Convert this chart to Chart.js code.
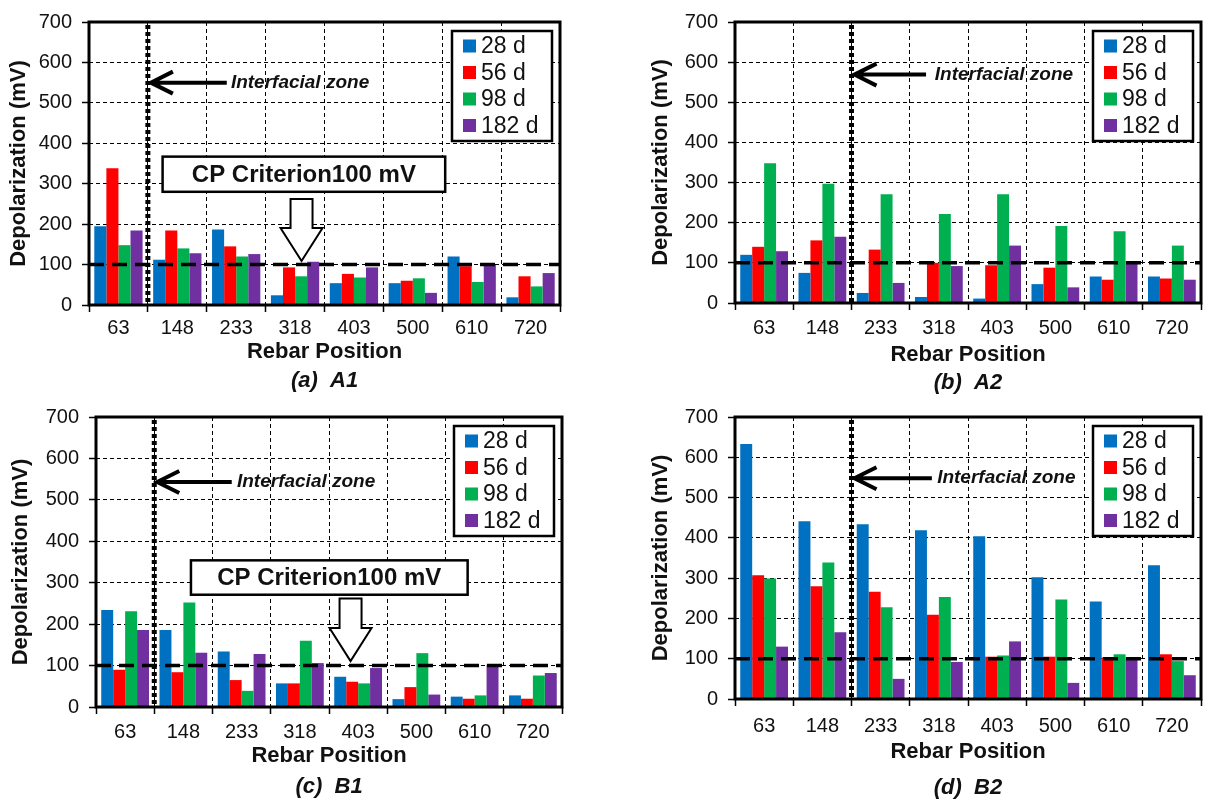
<!DOCTYPE html>
<html lang="en">
<head>
  <meta charset="UTF-8" />
  <title>Depolarization vs Rebar Position</title>
  <style>
    * { box-sizing: border-box; }
    body {
      margin: 0;
      width: 1208px;
      height: 803px;
      background: #fff;
      position: relative;
      overflow: hidden;
    }
    .panel { position: absolute; }
  </style>
</head>
<body>
  <div class="panel" style="left:0;top:0"><canvas id="chartA1" width="580" height="395"></canvas></div>
  <div class="panel" style="left:640px;top:0"><canvas id="chartA2" width="568" height="395"></canvas></div>
  <div class="panel" style="left:0;top:395px"><canvas id="chartB1" width="580" height="408"></canvas></div>
  <div class="panel" style="left:640px;top:395px"><canvas id="chartB2" width="568" height="408"></canvas></div>

  <script src="https://cdn.jsdelivr.net/npm/chart.js"></script>
  <script>
    const positions = ['63', '148', '233', '318', '403', '500', '610', '720'];
    const ageLabels = ['28 d', '56 d', '98 d', '182 d'];
    const ageColors = ['#0070C0', '#FF0000', '#00B050', '#7030A0'];
    const criterion = 100;

    // (a) A1
    const a1Day28 = [195, 112, 187, 24, 54, 54, 120, 19];
    const a1Day56 = [338, 184, 145, 93, 77, 60, 96, 71];
    const a1Day98 = [148, 140, 120, 71, 68, 66, 57, 46];
    const a1Day182 = [184, 128, 126, 107, 93, 30, 99, 79];
    // (b) A2
    const a2Day28 = [120, 75, 25, 15, 11, 47, 66, 66];
    const a2Day56 = [140, 156, 133, 100, 94, 88, 58, 61];
    const a2Day98 = [348, 297, 271, 222, 271, 192, 179, 143];
    const a2Day182 = [129, 165, 50, 92, 143, 39, 104, 58];
    // (c) B1
    const b1Day28 = [234, 186, 134, 57, 73, 19, 25, 28];
    const b1Day56 = [90, 84, 65, 57, 61, 48, 20, 20];
    const b1Day98 = [231, 252, 39, 160, 57, 130, 28, 76];
    const b1Day182 = [186, 131, 128, 106, 94, 30, 102, 82];
    // (d) B2
    const b2Day28 = [633, 441, 434, 419, 404, 302, 242, 332];
    const b2Day56 = [307, 280, 266, 209, 105, 105, 103, 111];
    const b2Day98 = [299, 339, 228, 253, 108, 247, 111, 94];
    const b2Day182 = [130, 166, 50, 92, 143, 40, 103, 59];

    const FONT = "'Liberation Sans', Arial, sans-serif";
    Chart.defaults.font.family = FONT;
    Chart.defaults.color = '#111';

    // draws the criterion line, interfacial zone marker, CP box, legend and frame
    function decorPlugin(note) {
      return {
        id: 'decor',
        afterDraw(chart) {
          const { ctx, chartArea: a, scales: { x, y } } = chart;
          ctx.save();

          // 100 mV criterion line
          const yc = y.getPixelForValue(criterion);
          ctx.strokeStyle = '#000';
          ctx.lineWidth = 3.5;
          ctx.setLineDash([15, 8]);
          ctx.beginPath();
          ctx.moveTo(a.left, yc);
          ctx.lineTo(a.right, yc);
          ctx.stroke();

          // interfacial zone boundary
          const xb = x.getPixelForValue(note.zone);
          ctx.lineWidth = 5;
          ctx.setLineDash([4, 3]);
          ctx.beginPath();
          ctx.moveTo(xb, a.top + 3);
          ctx.lineTo(xb, a.bottom);
          ctx.stroke();

          // arrow + label
          ctx.setLineDash([]);
          ctx.lineWidth = 4;
          const ya = y.getPixelForValue(note.arrowY);
          const tip = xb + 3;
          ctx.beginPath();
          ctx.moveTo(x.getPixelForValue(note.arrowTail), ya);
          ctx.lineTo(tip + 2, ya);
          ctx.moveTo(tip + 22, ya - 11);
          ctx.lineTo(tip, ya);
          ctx.lineTo(tip + 22, ya + 11);
          ctx.stroke();
          ctx.fillStyle = '#111';
          ctx.font = 'italic bold 19px ' + FONT;
          ctx.textBaseline = 'middle';
          ctx.textAlign = 'left';
          ctx.fillText('Interfacial zone', x.getPixelForValue(note.textStart), ya);

          // CP criterion callout
          if (note.cp) {
            const c = note.cp;
            const bx0 = x.getPixelForValue(c.x0), bx1 = x.getPixelForValue(c.x1);
            const by0 = y.getPixelForValue(c.yTop), by1 = y.getPixelForValue(c.yBottom);
            ctx.fillStyle = '#fff';
            ctx.fillRect(bx0, by0, bx1 - bx0, by1 - by0);
            ctx.lineWidth = 2.5;
            ctx.strokeRect(bx0, by0, bx1 - bx0, by1 - by0);
            ctx.fillStyle = '#111';
            ctx.font = 'bold 24px ' + FONT;
            ctx.textAlign = 'center';
            ctx.fillText('CP Criterion100 mV', (bx0 + bx1) / 2, (by0 + by1) / 2 + 1);

            const cx = x.getPixelForValue(c.arrowX);
            const t0 = y.getPixelForValue(c.arrowTop);
            const t1 = y.getPixelForValue(c.arrowTip);
            const hb = t1 - 33;
            ctx.beginPath();
            ctx.moveTo(cx - 11, t0);
            ctx.lineTo(cx + 11, t0);
            ctx.lineTo(cx + 11, hb);
            ctx.lineTo(cx + 21, hb);
            ctx.lineTo(cx, t1);
            ctx.lineTo(cx - 21, hb);
            ctx.lineTo(cx - 11, hb);
            ctx.closePath();
            ctx.fillStyle = '#fff';
            ctx.fill();
            ctx.lineWidth = 2;
            ctx.stroke();
          }

          // legend box
          const lw = 100, lh = 110;
          const lx = a.right - 8 - lw, ly = a.top + 9;
          ctx.fillStyle = '#fff';
          ctx.fillRect(lx, ly, lw, lh);
          ctx.lineWidth = 2.5;
          ctx.strokeStyle = '#000';
          ctx.strokeRect(lx, ly, lw, lh);
          ctx.font = '23px ' + FONT;
          ctx.textAlign = 'left';
          chart.data.datasets.forEach((ds, i) => {
            const cy = ly + 15 + i * 26.5;
            ctx.fillStyle = ds.backgroundColor;
            ctx.fillRect(lx + 11, cy - 6.5, 13, 13);
            ctx.fillStyle = '#111';
            ctx.fillText(ds.label, lx + 29, cy + 1);
          });

          // plot frame
          ctx.lineWidth = 3;
          ctx.strokeRect(a.left, a.top, a.right - a.left, a.bottom - a.top);
          ctx.restore();
        }
      };
    }

    function makePanel(id, title, series, g, note) {
      const gridOpts = {
        color: '#000',
        lineWidth: 1,
        drawTicks: true,
        tickLength: 7,
        tickColor: '#000',
        tickWidth: 1.5,
        tickBorderDash: []
      };
      return new Chart(document.getElementById(id), {
        type: 'bar',
        data: {
          labels: positions,
          datasets: series.map((values, i) => ({
            label: ageLabels[i],
            data: values,
            backgroundColor: ageColors[i],
            borderWidth: 0,
            categoryPercentage: 0.82,
            barPercentage: 1.0
          }))
        },
        options: {
          responsive: false,
          animation: false,
          devicePixelRatio: 1,
          layout: {
            padding: { left: 0, top: g.top, right: g.w - g.right, bottom: g.h - (g.titleY + 13.2) }
          },
          plugins: {
            legend: { display: false },
            tooltip: { enabled: false },
            title: {
              display: true,
              text: title,
              position: 'bottom',
              fullSize: false,
              color: '#111',
              font: { size: 22, weight: 'bold', style: 'italic' },
              padding: { top: g.titleY - g.axisY - 26.4, bottom: 0 }
            }
          },
          scales: {
            x: {
              grid: Object.assign({ offset: true }, gridOpts),
              border: { display: false, dash: [4, 3] },
              ticks: { font: { size: 20 }, color: '#111', padding: g.tickY - g.bottom - 7 - 12 },
              title: {
                display: true,
                text: 'Rebar Position',
                color: '#111',
                font: { size: 22, weight: 'bold' },
                padding: 0
              },
              afterFit: (s) => { s.height = g.axisY + 13.2 - g.bottom; }
            },
            y: {
              min: 0,
              max: 700,
              grid: gridOpts,
              border: { display: false, dash: [4, 3] },
              ticks: { stepSize: 100, font: { size: 20 }, color: '#111', padding: 10 },
              title: {
                display: true,
                text: 'Depolarization (mV)',
                color: '#111',
                font: { size: 22, weight: 'bold' },
                padding: { top: g.yTitleX - 13.2, bottom: 0 }
              },
              afterFit: (s) => { s.width = g.left; }
            }
          }
        },
        plugins: [decorPlugin(note)]
      });
    }

    makePanel('chartA1', '(a)  A1', [a1Day28, a1Day56, a1Day98, a1Day182],
      { w: 580, h: 395, left: 89, top: 17, right: 560, bottom: 305, tickY: 328, axisY: 352, titleY: 381, yTitleX: 19 },
      { zone: 0.5, arrowY: 550, arrowTail: 1.84, textStart: 1.91,
        cp: { x0: 0.75, x1: 5.55, yTop: 367, yBottom: 280, arrowX: 3.11, arrowTop: 262, arrowTip: 109 } });

    makePanel('chartA2', '(b)  A2', [a2Day28, a2Day56, a2Day98, a2Day182],
      { w: 568, h: 395, left: 95, top: 16, right: 561, bottom: 303, tickY: 328, axisY: 355, titleY: 383, yTitleX: 21 },
      { zone: 1.5, arrowY: 569, arrowTail: 2.78, textStart: 2.93 });

    makePanel('chartB1', '(c)  B1', [b1Day28, b1Day56, b1Day98, b1Day182],
      { w: 580, h: 408, left: 96, top: 15, right: 562, bottom: 312, tickY: 337, axisY: 361, titleY: 392, yTitleX: 21 },
      { zone: 0.5, arrowY: 543, arrowTail: 1.83, textStart: 1.92,
        cp: { x0: 1.13, x1: 5.88, yTop: 354, yBottom: 271, arrowX: 3.87, arrowTop: 262, arrowTip: 111 } });

    makePanel('chartB2', '(d)  B2', [b2Day28, b2Day56, b2Day98, b2Day182],
      { w: 568, h: 408, left: 95, top: 15, right: 561, bottom: 304, tickY: 331, axisY: 357, titleY: 393, yTitleX: 21 },
      { zone: 1.5, arrowY: 548, arrowTail: 2.88, textStart: 2.97 });
  </script>
</body>
</html>
